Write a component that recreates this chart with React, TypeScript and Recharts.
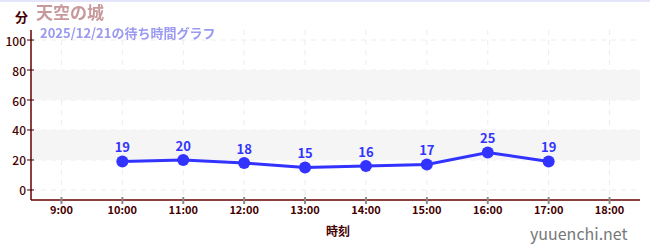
import {
  CartesianGrid,
  LabelList,
  Line,
  LineChart,
  ReferenceArea,
  XAxis,
  YAxis,
} from 'recharts'

const hours = [10, 11, 12, 13, 14, 15, 16, 17]
const waits = [19, 20, 18, 15, 16, 17, 25, 19]
const hourTicks = [9, 10, 11, 12, 13, 14, 15, 16, 17, 18]
const waitTicks = [0, 10, 20, 30, 40, 50, 60, 70, 80, 90, 100]
const majorWaits = [0, 20, 40, 60, 80, 100]
const bands = [
  [20, 40],
  [60, 80],
]

const data = hours.map((hour, i) => ({ hour, wait: waits[i] }))

const FONT = '"Noto Sans CJK JP", "Noto Sans", sans-serif'
const AXIS_X = 31
const AXIS_Y = 200

function YTick({ y, payload }: any) {
  const v = payload.value as number
  if (v % 20 !== 0) {
    return <line x1={AXIS_X - 4} x2={AXIS_X} y1={y} y2={y} stroke="#d22" strokeWidth={1} />
  }
  return (
    <g>
      <line x1={AXIS_X - 4} x2={AXIS_X + 3} y1={y} y2={y} stroke="#400" strokeWidth={1} />
      <text
        x={AXIS_X - 5}
        y={y}
        textAnchor="end"
        dominantBaseline="central"
        fill="#400"
        fontSize={12}
        fontWeight={500}
        fontFamily={FONT}
      >
        {v}
      </text>
    </g>
  )
}

function XTick({ x, payload }: any) {
  return (
    <g>
      <line x1={x} x2={x} y1={AXIS_Y - 3} y2={AXIS_Y + 4} stroke="#888" strokeWidth={2} />
      <text
        x={x}
        y={AXIS_Y + 14}
        textAnchor="middle"
        fill="#400"
        fontSize={11}
        fontWeight="bold"
        fontFamily={FONT}
      >
        {`${payload.value}:00`}
      </text>
    </g>
  )
}

export default function App() {
  return (
    <div style={{ position: 'fixed', top: 0, left: 0, width: 650, height: 250, background: '#fff', fontFamily: FONT }}>
      <div style={{ position: 'absolute', top: 0, left: 0, width: 650, height: 2, background: '#e4e4fa' }} />
      <LineChart width={650} height={250} data={data} margin={{ top: 30, right: 10, bottom: 30, left: 5 }}>
        {bands.map(([a, b]) => (
          <ReferenceArea key={a} y1={a} y2={b} fill="#f5f5f5" fillOpacity={1} stroke="none" />
        ))}
        <CartesianGrid
          stroke="#ececec"
          strokeDasharray="5 5"
          horizontalValues={majorWaits}
          verticalValues={hourTicks}
        />
        <XAxis
          type="number"
          dataKey="hour"
          domain={[8.5, 18.5]}
          ticks={hourTicks}
          height={20}
          tick={<XTick />}
          tickLine={false}
          axisLine={{ stroke: '#600', strokeWidth: 1.5 }}
        />
        <YAxis
          domain={[-6.7, 106.7]}
          ticks={waitTicks}
          width={26}
          tick={<YTick />}
          tickLine={false}
          axisLine={{ stroke: '#600', strokeWidth: 1.5 }}
        />
        <Line
          type="linear"
          dataKey="wait"
          stroke="#3333ff"
          strokeWidth={3}
          dot={{ r: 6, fill: '#3333ff', stroke: 'none' }}
          isAnimationActive={false}
        >
          <LabelList dataKey="wait" position="top" offset={9} fill="#3333ff" fontSize={13} fontWeight="bold" fontFamily={FONT} />
        </Line>
      </LineChart>
      <div style={{ position: 'absolute', left: 15, top: 8, fontSize: 13, fontWeight: 'bold', color: '#400', lineHeight: '18px' }}>分</div>
      <div style={{ position: 'absolute', left: 36, top: 3, fontSize: 17, fontWeight: 'bold', color: '#c8999b', lineHeight: '18px' }}>天空の城</div>
      <div style={{ position: 'absolute', left: 40, top: 26, fontSize: 13, fontWeight: 'bold', color: '#9a9af0', lineHeight: '14px' }}>2025/12/21の待ち時間グラフ</div>
      <div style={{ position: 'absolute', left: 326, top: 222, fontSize: 12, fontWeight: 'bold', color: '#400' }}>時刻</div>
      <div style={{ position: 'absolute', left: 530, top: 221, fontSize: 16, color: '#777' }}>yuuenchi.net</div>
    </div>
  )
}
